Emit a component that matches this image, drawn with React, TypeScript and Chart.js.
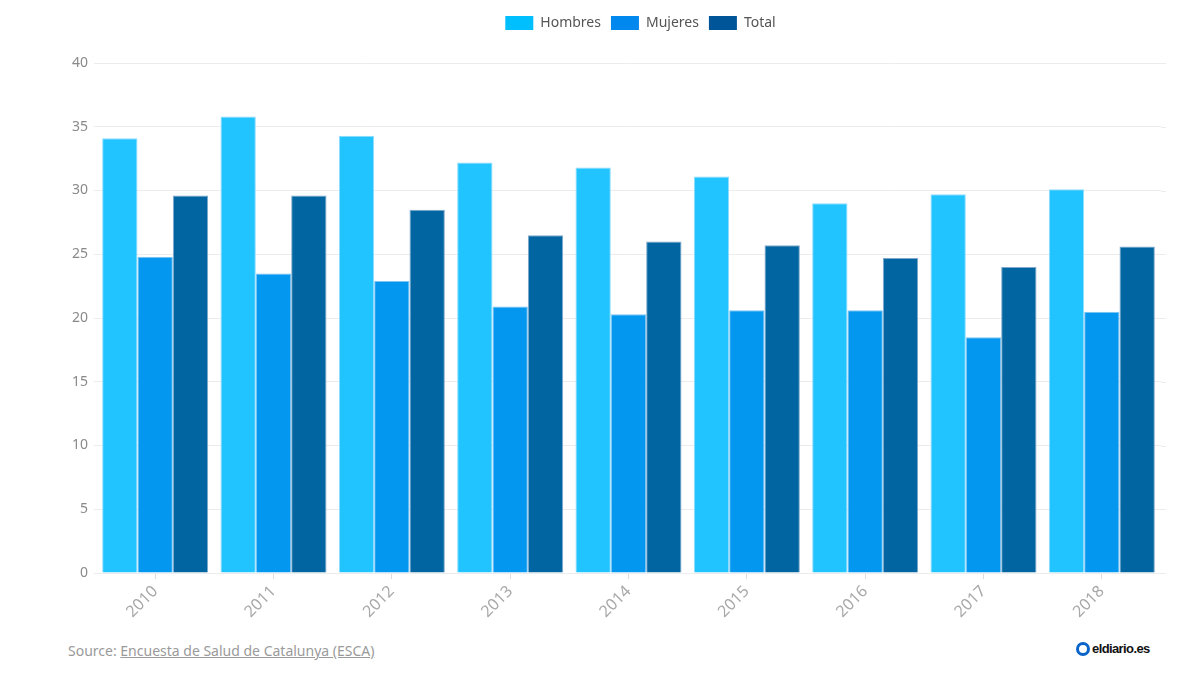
import React, { useEffect, useRef } from "react";
import { Chart, registerables } from "chart.js";

Chart.register(...registerables);

const categories = ["2010", "2011", "2012", "2013", "2014", "2015", "2016", "2017", "2018"];
const hombres = [34.1, 35.8, 34.3, 32.2, 31.8, 31.1, 29.0, 29.7, 30.1];
const mujeres = [24.8, 23.5, 22.9, 20.9, 20.3, 20.6, 20.6, 18.5, 20.5];
const total = [29.6, 29.6, 28.5, 26.5, 26.0, 25.7, 24.7, 24.0, 25.6];
const yTicks = [0, 5, 10, 15, 20, 25, 30, 35, 40];

const FONT = "'Noto Sans', 'Open Sans', sans-serif";

export default function App() {
  const ref = useRef<HTMLCanvasElement | null>(null);

  useEffect(() => {
    if (!ref.current) return;
    const legendColors = ["#00bfff", "#0088ee", "#005599"];
    const legendHeight = {
      id: "legendHeight",
      beforeInit(chart: any) {
        const orig = chart.legend.fit;
        chart.legend.fit = function () {
          orig.bind(chart.legend)();
          this.height = 57;
        };
      },
      afterLayout(chart: any) {
        const lg = chart.legend;
        if (lg) {
          lg.left += 60;
          lg.right += 60;
        }
      },
    };
    const gridExtend = {
      id: "gridExtend",
      beforeDatasetsDraw(chart: any) {
        const { ctx, chartArea, scales } = chart;
        ctx.save();
        ctx.strokeStyle = "#ececec";
        ctx.lineWidth = 1;
        yTicks.forEach((v) => {
          const y = Math.round(scales.y.getPixelForValue(v)) + 0.5;
          ctx.beginPath();
          ctx.moveTo(chartArea.right, y);
          ctx.lineTo(1166, y);
          ctx.stroke();
        });
        ctx.restore();
      },
    };
    const chart = new Chart(ref.current, {
      type: "bar",
      data: {
        labels: categories,
        datasets: [
          { label: "Hombres", data: hombres, backgroundColor: "#22c4ff", borderColor: "#8fdcff", borderWidth: 1 },
          { label: "Mujeres", data: mujeres, backgroundColor: "#0497ef", borderColor: "#7cc4f5", borderWidth: 1 },
          { label: "Total", data: total, backgroundColor: "#0065a1", borderColor: "#7fa9cc", borderWidth: 1 },
        ],
      },
      options: {
        animation: false,
        responsive: false,
        maintainAspectRatio: false,
        layout: { padding: { left: 0, right: 39, top: 6, bottom: 0 } },
        datasets: { bar: { categoryPercentage: 0.896, barPercentage: 1.0 } },
        plugins: {
          legend: {
            position: "top",
            labels: {
              font: { family: FONT, size: 14 },
              color: "#555",
              boxWidth: 28,
              boxHeight: 14,
              padding: 10,
              generateLabels: (c: any) =>
                c.data.datasets.map((d: any, i: number) => ({
                  text: d.label,
                  fillStyle: legendColors[i],
                  strokeStyle: legendColors[i],
                  lineWidth: 0,
                  hidden: false,
                  datasetIndex: i,
                  fontColor: "#555",
                })),
            },
          },
          tooltip: { enabled: false },
        },
        scales: {
          x: {
            grid: { display: true, drawOnChartArea: false, drawTicks: true, tickLength: 6, offset: false, color: "#ddd" },
            border: { display: false },
            ticks: {
              font: { family: FONT, size: 16 },
              color: "#a8a8a8",
              maxRotation: 45,
              minRotation: 45,
              padding: 3,
            },
            afterFit(scale: any) {
              scale.height = 57;
            },
          },
          y: {
            min: 0,
            max: 40,
            afterBuildTicks(scale: any) {
              scale.ticks = yTicks.map((v) => ({ value: v }));
            },
            grid: { color: "#ececec", tickLength: 2, drawTicks: true },
            border: { display: false },
            ticks: {
              font: { family: FONT, size: 14 },
              color: "#8a8a8a",
              padding: 6,
            },
            afterFit(scale: any) {
              scale.width = 96;
            },
          },
        },
      },
      plugins: [legendHeight, gridExtend],
    });
    return () => chart.destroy();
  }, []);

  return (
    <div style={{ position: "fixed", left: 0, top: 0, width: 1200, height: 680, background: "#fff", fontFamily: FONT }}>
      <canvas ref={ref} width={1200} height={630} style={{ display: "block", width: 1200, height: 630 }} />
      <div style={{ position: "absolute", left: 68, top: 641, fontSize: 14, color: "#9a9a9a" }}>
        Source: <span style={{ textDecoration: "underline" }}>Encuesta de Salud de Catalunya (ESCA)</span>
      </div>
      <div style={{ position: "absolute", left: 1076, top: 641, display: "flex", alignItems: "center", fontSize: 13, fontWeight: 700, color: "#111", letterSpacing: -0.6, fontFamily: "'Liberation Sans', Arial, sans-serif" }}>
        <span style={{ display: "inline-block", width: 8, height: 8, borderRadius: "50%", border: "3px solid #0a63c9", marginRight: 2 }} />
        eldiario.es
      </div>
    </div>
  );
}
